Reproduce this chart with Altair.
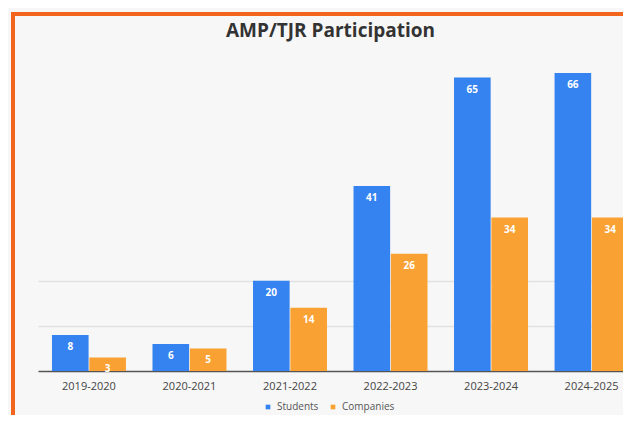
import altair as alt
import pandas as pd

years = ["2019-2020", "2020-2021", "2021-2022", "2022-2023", "2023-2024", "2024-2025"]
students = [8, 6, 20, 41, 65, 66]
companies = [3, 5, 14, 26, 34, 34]
series = ["Students", "Companies"]
colors = ["#3483f0", "#f9a233"]

rows = []
for i, y in enumerate(years):
    rows.append({"Year": y, "Group": "Students", "Value": students[i]})
    rows.append({"Year": y, "Group": "Companies", "Value": companies[i]})
df = pd.DataFrame(rows)

xscale = alt.Scale(domain=years, range=[0, 604.5], paddingInner=0.264, paddingOuter=0.139)
yscale = alt.Scale(domain=[0, 70], nice=False)
offscale = alt.Scale(domain=series, paddingInner=0.02)

base = alt.Chart(df).encode(
    x=alt.X("Year:N", scale=xscale, sort=years,
            axis=alt.Axis(title=None, labelAngle=0, ticks=False, labelFontSize=11,
                          labelColor="#444", labelFont="Open Sans", labelPadding=9,
                          domainColor="#555", domainWidth=1.5)),
    xOffset=alt.XOffset("Group:N", scale=offscale, sort=series),
    y=alt.Y("Value:Q", scale=yscale,
            axis=alt.Axis(title=None, labels=False, ticks=False, domain=False,
                          grid=True, values=[10, 20], gridColor="#e2e2e2", gridWidth=1.5)),
)

bars = base.mark_bar().encode(
    color=alt.Color("Group:N", scale=alt.Scale(domain=series, range=colors),
                    legend=alt.Legend(title=None, orient="none", legendX=225, legendY=347,
                                      direction="horizontal", symbolType="square",
                                      symbolSize=22, labelFontSize=10, labelColor="#555",
                                      labelFont="Open Sans", columnPadding=9, labelOffset=4))
)

labels = base.mark_text(dy=12, color="white", fontWeight="bold", fontSize=10,
                        font="Open Sans").encode(text="Value:Q")

frame = alt.Chart(df).mark_rect(fill=None, stroke="#f2651c", strokeWidth=4).encode(
    x=alt.value(-25), x2=alt.value(640), y=alt.value(-41), y2=alt.value(380)
)

chart = alt.layer(frame, bars, labels).properties(
    width=585, height=316,
    title=alt.TitleParams("AMP/TJR Participation", fontSize=19, font="Open Sans",
                          fontWeight="bold", color="#333", offset=-29, anchor="middle"),
    autosize=alt.AutoSizeParams(type="none"),
    padding={"left": 30, "top": 47, "right": 0, "bottom": 44},
    background="#f7f7f7",
).configure_view(stroke=None)

chart.save("out.html", embed_options={"renderer": "svg", "actions": False})
